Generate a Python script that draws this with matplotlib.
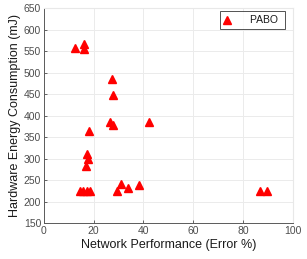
import matplotlib
matplotlib.use("Agg")
import matplotlib.pyplot as plt

plt.rcParams["font.family"] = ["Liberation Sans", "DejaVu Sans"]

# PABO results
error_pct = [12.4, 16.1, 16.1, 27.4, 27.8, 26.5, 27.8, 42.3, 18.2,
             17.4, 17.7, 17.1, 14.3, 15.6, 17.2, 18.7,
             29.4, 30.9, 33.6, 38.3, 86.7, 89.7]
energy_mj = [557, 567, 555, 485, 448, 386, 379, 385, 363,
             311, 299, 282, 224, 224, 224, 224,
             224, 241, 231, 238, 225, 225]

xticks = [0, 20, 40, 60, 80, 100]
yticks = [150, 200, 250, 300, 350, 400, 450, 500, 550, 600, 650]

fig = plt.figure(figsize=(3.07, 2.59), dpi=100)
ax = fig.add_axes([0.143, 0.139, 0.811, 0.830])

ax.plot(error_pct, energy_mj, linestyle="none", marker="^", markersize=6,
        color="red", markeredgecolor="red", label="PABO", clip_on=False)

ax.set_xlim(0, 100)
ax.set_ylim(150, 650)
ax.set_xticks(xticks)
ax.set_yticks(yticks)
ax.grid(True, color="#ebebeb", linewidth=0.7)
ax.set_axisbelow(True)

for side in ["top", "right"]:
    ax.spines[side].set_color("#e8e8e8")
for side in ["left", "bottom"]:
    ax.spines[side].set_color("#5a5a5a")
    ax.spines[side].set_linewidth(0.7)

ax.tick_params(labelsize=7.5, colors="#4d4d4d", length=2, width=0.6,
               direction="in", pad=2)
ax.set_xlabel("Network Performance (Error %)", fontsize=9, color="#1a1a1a", labelpad=2)
ax.set_ylabel("Hardware Energy Consumption (mJ)", fontsize=9, color="#1a1a1a", labelpad=2)

leg = ax.legend(loc="upper right", bbox_to_anchor=(0.968, 0.986), fontsize=7.5,
                frameon=True, fancybox=False, borderpad=0.4,
                handletextpad=1.9, borderaxespad=0.0, handlelength=0.6)
leg.get_frame().set_edgecolor("#262626")
leg.get_frame().set_linewidth(0.7)
leg._legend_box.align = "left"
for t in leg.get_texts():
    t.set_color("#1a1a1a")
    t.set_text("PABO ")

fig.savefig("out.png", dpi=100)
